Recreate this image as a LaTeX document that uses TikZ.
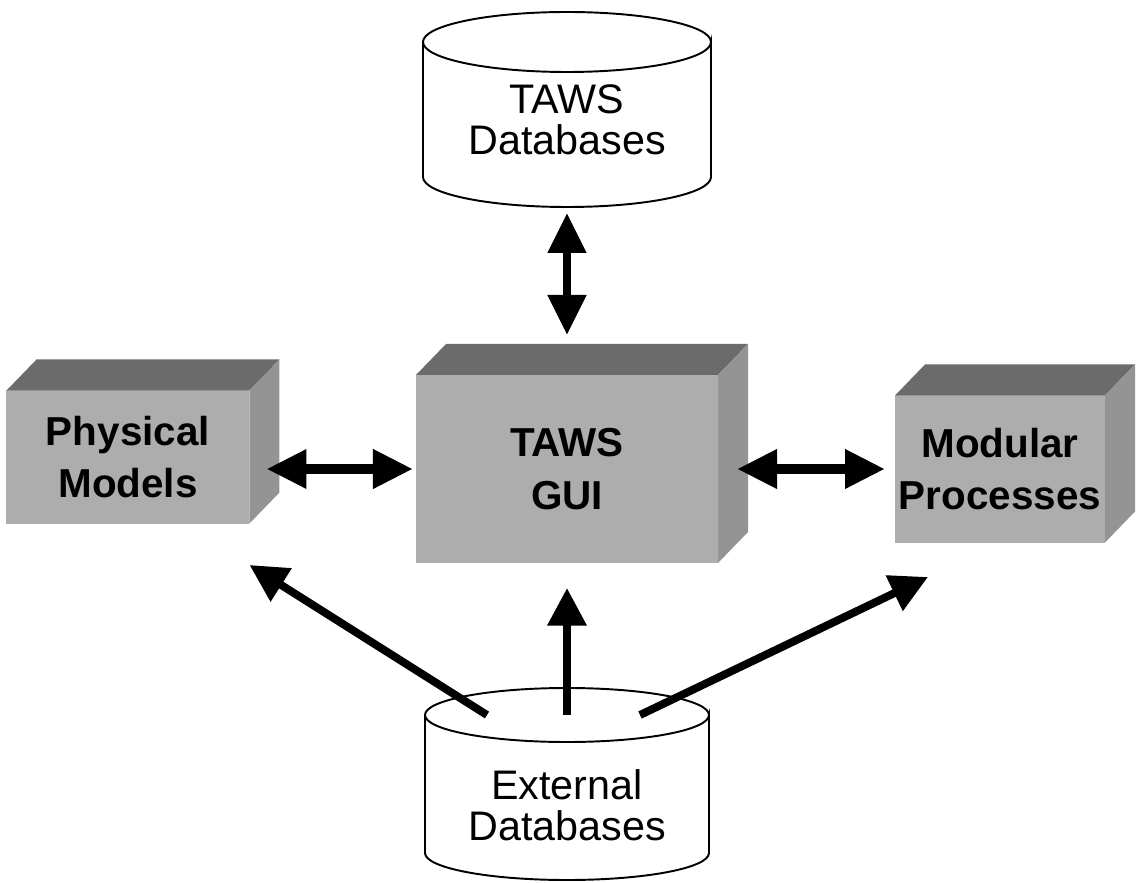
\documentclass[tikz,border=0pt]{standalone}
\usepackage{fontspec}
\setmainfont{Liberation Sans}
\usetikzlibrary{arrows.meta}

\definecolor{facefront}{gray}{0.68}
\definecolor{facetop}{gray}{0.42}
\definecolor{faceside}{gray}{0.58}

\begin{document}
\begin{tikzpicture}
  \tikzset{
    node distance=8.7cm,
    block/.style={rectangle,fill=facefront,inner sep=0pt,outer sep=0pt,align=center,
      font=\bfseries\fontsize{23}{30}\selectfont},
    db/.style={rectangle,inner sep=0pt,outer sep=0pt},
    dbtext/.style={align=center,font=\fontsize{23.5}{23.5}\selectfont},
    dbline/.style={draw=black,line width=1.1pt,fill=white},
    link/.style={line width=4.5pt,-{Triangle[length=0.75cm,width=0.75cm]}},
    biarrow/.style={line width=5.5pt,
      {Triangle[length=0.8cm,width=0.74cm]}-{Triangle[length=0.8cm,width=0.74cm]}}
  }

  \useasboundingbox (-11.34,-8.26) rectangle (11.5,9.38);

  % boxes
  \node[block,minimum width=6.04cm,minimum height=3.76cm] (gui) {TAWS\\GUI};
  \node[block,minimum width=4.86cm,minimum height=2.66cm,node distance=8.78cm,left of=gui,yshift=0.24cm] (phys) {Physical\\Models};
  \node[block,minimum width=4.2cm,minimum height=2.94cm,node distance=8.66cm,right of=gui] (mod) {Modular\\Processes};

  \foreach \n in {phys,gui,mod}{
    \fill[facetop] (\n.north west) -- ++(0.6,0.62) -- ([shift={(0.6,0.62)}]\n.north east) -- (\n.north east) -- cycle;
    \fill[faceside] (\n.north east) -- ++(0.6,0.62) -- ([shift={(0.6,0.62)}]\n.south east) -- (\n.south east) -- cycle;
  }

  % databases
  \node[db,minimum width=5.76cm,minimum height=2.7cm,node distance=7.19cm,above of=gui] (tawsdb) {};
  \draw[dbline] (tawsdb.north west) -- (tawsdb.south west)
    arc[start angle=180,end angle=360,x radius=2.88cm,y radius=0.6cm]
    -- (tawsdb.north east)
    arc[start angle=0,end angle=-180,x radius=2.88cm,y radius=0.6cm]
    arc[start angle=180,end angle=0,x radius=2.88cm,y radius=0.6cm];
  \node[dbtext] (tawsdbtext) at ([yshift=-0.21cm]tawsdb.center) {TAWS\\Databases};

  \node[db,minimum width=5.68cm,minimum height=2.76cm,node distance=6.3cm,below of=gui] (extdb) {};
  \draw[dbline] (extdb.north west) -- (extdb.south west)
    arc[start angle=180,end angle=360,x radius=2.84cm,y radius=0.54cm]
    -- (extdb.north east)
    arc[start angle=0,end angle=-180,x radius=2.84cm,y radius=0.54cm]
    arc[start angle=180,end angle=0,x radius=2.84cm,y radius=0.54cm];
  \node[dbtext] (extdbtext) at ([yshift=-0.42cm]extdb.center) {External\\Databases};

  % arrows
  \draw[biarrow,line width=4.5pt] ([yshift=-0.72cm]tawsdb.south) -- ([yshift=0.8cm]gui.north);
  \draw[biarrow,shorten <=0.34cm,shorten >=0.06cm] (phys.east |- gui.west) -- (gui.west);
  \draw[biarrow,shorten <=0.38cm,shorten >=0.2cm] (gui.east) -- (gui.east -| mod.west);

  \draw[link,shorten >=0.5cm] (extdb.north) -- (gui.south);
  \draw[link] ([xshift=-1.6cm]extdb.north) -- ([yshift=-0.83cm]phys.south east);
  \draw[link] ([xshift=1.46cm]extdb.north) -- ([shift={(0.66,-0.69)}]mod.south west);
\end{tikzpicture}
\end{document}
